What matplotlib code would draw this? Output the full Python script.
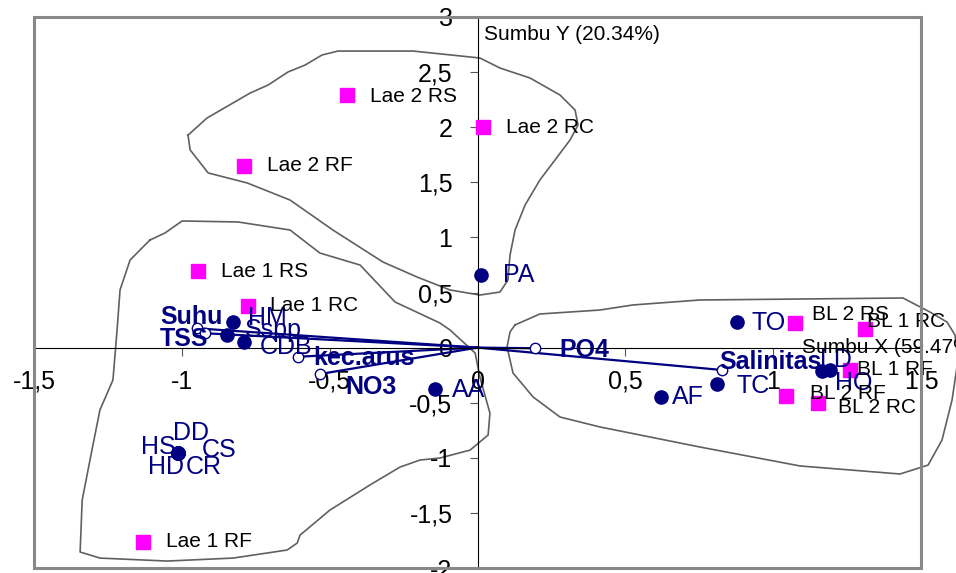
import matplotlib
matplotlib.use("Agg")
import matplotlib.pyplot as plt
from matplotlib.patches import Rectangle
from matplotlib.ticker import FuncFormatter, MultipleLocator

plt.rcParams["font.family"] = ["Liberation Sans", "DejaVu Sans"]

NAVY = "#000080"
MAGENTA = "#ff00ff"
OUTLINE = "#606060"

# sampling sites (PCA scores)
sites = ["Lae 2 RS", "Lae 2 RC", "Lae 2 RF", "Lae 1 RS", "Lae 1 RC", "Lae 1 RF",
         "BL 2 RS", "BL 1 RC", "BL 1 RF", "BL 2 RF", "BL 2 RC"]
site_x = [-0.44, 0.02, -0.79, -0.945, -0.775, -1.13, 1.075, 1.31, 1.26, 1.045, 1.15]
site_y = [2.29, 2.00, 1.65, 0.695, 0.38, -1.76, 0.225, 0.17, -0.20, -0.435, -0.50]

# species (filled circles)
species = ["PA", "TO", "TC", "AF", "LD", "HO", "AA", "HM", "Sspp", "CDB",
           "HS", "DD", "CS", "HD", "CR"]
species_x = [0.012, 0.877, 0.809, 0.62, 1.164, 1.192, -0.144, -0.826, -0.848, -0.789,
             -1.012, -1.012, -1.012, -1.012, -1.012]
species_y = [0.66, 0.235, -0.333, -0.45, -0.21, -0.20, -0.378, 0.23, 0.114, 0.054,
             -0.953, -0.953, -0.953, -0.953, -0.953]

# environmental variables (vectors from origin)
variables = ["Suhu", "TSS", "kec.arus", "NO3", "PO4", "Salinitas"]
var_x = [-0.95, -0.92, -0.606, -0.533, 0.194, 0.826]
var_y = [0.175, 0.13, -0.083, -0.24, -0.006, -0.203]

# hand drawn group outlines
lae2_x = [-0.979, -0.915, -0.769, -0.708, -0.641, -0.583, -0.526, -0.472, -0.218, 0.008,
          0.076, 0.178, 0.279, 0.330, 0.340, 0.313, 0.262, 0.211, 0.161, 0.127, 0.110,
          0.103, 0.076, 0.008, -0.093, -0.205, -0.320, -0.489, -0.634, -0.779, -0.911,
          -0.972, -0.979]
lae2_y = [1.928, 2.083, 2.310, 2.383, 2.501, 2.564, 2.655, 2.691, 2.691, 2.628,
          2.537, 2.446, 2.292, 2.156, 2.020, 1.884, 1.702, 1.521, 1.294, 1.067, 0.840,
          0.613, 0.504, 0.477, 0.523, 0.641, 0.777, 1.067, 1.339, 1.494, 1.585,
          1.794, 1.928]
lae1_x = [-1.108, -1.057, -0.999, -0.810, -0.634, -0.533, -0.397, -0.279, -0.127, -0.093,
          -0.008, 0.008, 0.042, 0.036, -0.025, -0.127, -0.194, -0.262, -0.364, -0.499,
          -0.600, -0.610, -0.644, -0.827, -1.050, -1.277, -1.344, -1.337, -1.304, -1.277,
          -1.233, -1.219, -1.209, -1.175, -1.108]
lae1_y = [0.976, 1.040, 1.149, 1.140, 1.067, 0.858, 0.749, 0.414, 0.223, 0.160,
          -0.049, -0.267, -0.594, -0.793, -0.930, -1.002, -1.020, -1.084, -1.247, -1.474,
          -1.701, -1.774, -1.837, -1.910, -1.937, -1.910, -1.855, -1.383, -0.929, -0.566,
          -0.294, 0.160, 0.523, 0.795, 0.976]
bl_x = [0.127, 0.211, 0.414, 0.526, 0.752, 1.439, 1.530, 1.588, 1.615, 1.625, 1.605,
        1.571, 1.524, 1.429, 1.091, 0.752, 0.414, 0.279, 0.188, 0.120, 0.100, 0.110, 0.127]
bl_y = [0.206, 0.305, 0.341, 0.387, 0.432, 0.450, 0.323, 0.232, 0.114, -0.113, -0.476,
        -0.839, -1.066, -1.147, -1.074, -0.902, -0.720, -0.630, -0.448, -0.230, 0.005,
        0.142, 0.206]

# label placement: (dx, dy) in pixels, horizontal alignment
site_offsets = {
    "Lae 2 RS": (23, -1), "Lae 2 RC": (23, 0), "Lae 2 RF": (23, 0), "Lae 1 RS": (23, 0),
    "Lae 1 RC": (22, 0), "Lae 1 RF": (23, 0), "BL 2 RS": (17, 8), "BL 1 RC": (2, 7),
    "BL 1 RF": (7, 0), "BL 2 RF": (24, 2), "BL 2 RC": (20, -5),
}
species_offsets = {
    "PA": (22, 0, "left"), "TO": (15, -1, "left"), "TC": (20, -2, "left"),
    "AF": (11, 0, "left"), "LD": (-2, 11, "left"), "HO": (5, -13, "left"),
    "AA": (17, -1, "left"), "HM": (15, 4, "left"), "Sspp": (18, 5, "left"),
    "CDB": (16, -5, "left"), "HS": (-3, 6, "right"), "DD": (-5, 20, "left"),
    "CS": (23, 3, "left"), "HD": (-30, -14, "left"), "CR": (7, -14, "left"),
}
var_offsets = {
    "Suhu": (-5, 11, "center"), "TSS": (-21, -6, "center"), "kec.arus": (15, -1, "left"),
    "NO3": (25, -13, "left"), "PO4": (25, -2, "left"), "Salinitas": (-2, 8, "left"),
}


def addLabel(ax, text, x, y, dx, dy, ha="left", **kw):
    """Put a text label next to a point, offset in pixels."""
    ax.annotate(text, (x, y), xytext=(dx, dy), textcoords="offset pixels",
                ha=ha, va="center", annotation_clip=False, zorder=6, **kw)


fig = plt.figure(figsize=(9.56, 5.73), dpi=100)
ax = fig.add_axes([34 / 956, 5 / 573, 887 / 956, 551 / 573])
ax.set_xlim(-1.5, 1.5)
ax.set_ylim(-2, 3)

# axes through the origin
for side in ["top", "right"]:
    ax.spines[side].set_visible(False)
ax.spines["left"].set_position(("data", 0))
ax.spines["bottom"].set_position(("data", 0))
for side in ["left", "bottom"]:
    ax.spines[side].set_color("black")
    ax.spines[side].set_linewidth(0.8)
ax.xaxis.set_major_locator(MultipleLocator(0.5))
ax.yaxis.set_major_locator(MultipleLocator(0.5))
fmt = FuncFormatter(lambda v, pos: f"{v:g}".replace(".", ","))
ax.xaxis.set_major_formatter(fmt)
ax.yaxis.set_major_formatter(fmt)
ax.tick_params(axis="both", direction="out", length=6, width=0.8, color="#555555",
               labelsize=18)
ax.tick_params(axis="x", pad=10)
ax.tick_params(axis="y", pad=12)

ax.add_patch(Rectangle((0, 0), 1, 1, transform=ax.transAxes, fill=False,
                       ec="#888888", lw=2.2, clip_on=False, zorder=7))

# group outlines
for gx, gy in [(lae2_x, lae2_y), (lae1_x, lae1_y), (bl_x, bl_y)]:
    ax.plot(gx, gy, color=OUTLINE, lw=1.2, clip_on=False, zorder=1)

# variable vectors
for name, x, y in zip(variables, var_x, var_y):
    ax.plot([0, x], [0, y], color=NAVY, lw=1.6, zorder=2)
ax.plot(var_x, var_y, "o", ms=7.5, mfc="white", mec=NAVY, mew=1.0, ls="none", zorder=3)
for name, x, y in zip(variables, var_x, var_y):
    dx, dy, ha = var_offsets[name]
    addLabel(ax, name, x, y, dx, dy, ha=ha, color=NAVY, fontsize=18, fontweight="bold")

# species
ax.plot(species_x, species_y, "o", ms=9.5, color=NAVY, ls="none", zorder=4)
for name, x, y in zip(species, species_x, species_y):
    dx, dy, ha = species_offsets[name]
    addLabel(ax, name, x, y, dx, dy, ha=ha, color=NAVY, fontsize=18)

# sites
ax.plot(site_x, site_y, "s", ms=10, color=MAGENTA, ls="none", zorder=4, clip_on=False)
for name, x, y in zip(sites, site_x, site_y):
    dx, dy = site_offsets[name]
    addLabel(ax, name, x, y, dx, dy, color="black", fontsize=15)

# axis titles
addLabel(ax, "Sumbu Y (20.34%)", 0, 3, 6, -18, color="black", fontsize=15)
addLabel(ax, "Sumbu X (59.47%)", 1.5, 0, -119, 0, color="black", fontsize=15)

fig.savefig("out.png", dpi=100)
